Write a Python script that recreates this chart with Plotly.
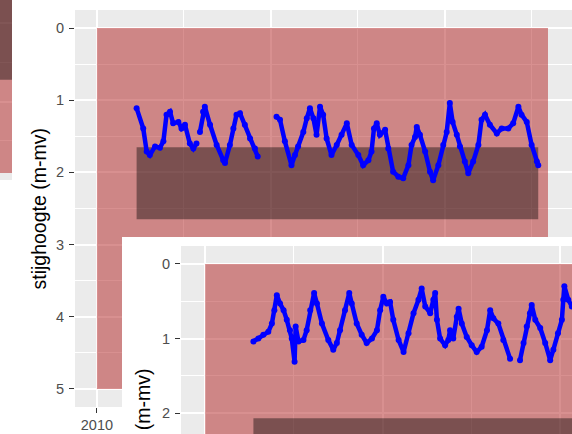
import plotly.graph_objects as go

# ---------------------------------------------------------------------------
# Data
# ---------------------------------------------------------------------------
# Filter 1 (large panel): groundwater head below surface level, decimal years
main_year = [
    2011.14, 2011.33, 2011.43, 2011.52, 2011.67, 2011.81, 2011.91, 2012.00,
    2012.10, 2012.19, 2012.34, 2012.43, 2012.53, 2012.67, 2012.77, 2012.86,
    None,
    2012.96, 2013.05, 2013.10, 2013.25, 2013.44, 2013.63, 2013.68, 2013.82,
    2013.92, 2014.01, 2014.11, 2014.25, 2014.40, 2014.54, 2014.62,
    None,
    2015.16, 2015.26, 2015.40, 2015.59, 2015.69, 2015.78, 2015.93, 2016.03,
    2016.12, 2016.22, 2016.31, 2016.41, 2016.50, 2016.60, 2016.74, 2016.89,
    2017.03, 2017.18, 2017.32, 2017.51, 2017.65, 2017.80, 2017.89, 2017.96,
    2018.04, 2018.13, 2018.28, 2018.37, 2018.51, 2018.66, 2018.80, 2018.95,
    2019.04, 2019.14, 2019.19, 2019.28, 2019.43, 2019.57, 2019.66, 2019.81,
    2019.95, 2020.05, 2020.14, 2020.22, 2020.34, 2020.43, 2020.57, 2020.67,
    2020.81, 2020.96, 2021.05, 2021.15, 2021.29, 2021.49, 2021.63, 2021.82,
    2021.96, 2022.11, 2022.20, 2022.35, 2022.49, 2022.64, 2022.68,
]
main_level = [
    1.11, 1.39, 1.71, 1.76, 1.64, 1.66, 1.57, 1.20,
    1.16, 1.32, 1.30, 1.39, 1.34, 1.60, 1.67, 1.60,
    None,
    1.44, 1.16, 1.09, 1.34, 1.62, 1.83, 1.87, 1.62,
    1.39, 1.20, 1.18, 1.34, 1.53, 1.67, 1.78,
    None,
    1.23, 1.27, 1.57, 1.90, 1.76, 1.64, 1.44, 1.25,
    1.11, 1.25, 1.48, 1.09, 1.20, 1.53, 1.76, 1.62,
    1.48, 1.32, 1.62, 1.76, 1.90, 1.83, 1.71, 1.39,
    1.32, 1.48, 1.41, 1.67, 1.99, 2.06, 2.08, 1.90,
    1.62, 1.51, 1.37, 1.48, 1.71, 1.99, 2.11, 1.90,
    1.62, 1.44, 1.04, 1.30, 1.48, 1.64, 1.85, 2.01,
    1.85, 1.62, 1.27, 1.20, 1.34, 1.46, 1.39, 1.39,
    1.32, 1.09, 1.20, 1.30, 1.62, 1.85, 1.90,
]

# Filter 2 (lower panel)
inset_year = [
    2011.36, 2011.50, 2011.64, 2011.78, 2011.88, 2011.95, 2012.02, 2012.11,
    2012.21, 2012.30, 2012.39, 2012.44, 2012.52, 2012.55, 2012.63, 2012.77,
    2012.86, 2012.96, 2013.07, 2013.15, 2013.29, 2013.47, 2013.61, 2013.71,
    2013.80, 2013.94, 2014.06, 2014.13, 2014.27, 2014.41, 2014.55, 2014.70,
    2014.84, 2014.93, 2015.02, 2015.12, 2015.21, 2015.30, 2015.45, 2015.59,
    2015.73, 2015.87, 2016.01, 2016.10, 2016.20, 2016.34, 2016.43, 2016.48,
    2016.53, 2016.62, 2016.76, 2016.85, 2016.90, 2016.99, 2017.09, 2017.14,
    2017.23, 2017.37, 2017.51, 2017.65, 2017.79, 2017.94, 2018.03, 2018.12,
    2018.26, 2018.40, 2018.59,
    None,
    2018.87, 2018.97, 2019.06, 2019.15, 2019.20, 2019.30, 2019.44, 2019.58,
    2019.72, 2019.81, 2019.94, 2020.05, 2020.09, 2020.12, 2020.23, 2020.33,
]
inset_level = [
    1.04, 1.00, 0.95, 0.91, 0.80, 0.62, 0.42, 0.53,
    0.62, 0.75, 0.89, 1.00, 1.31, 0.84, 1.04, 1.02,
    0.89, 0.62, 0.39, 0.53, 0.80, 1.02, 1.15, 1.06,
    0.89, 0.62, 0.39, 0.53, 0.80, 0.95, 1.06, 1.00,
    0.89, 0.62, 0.44, 0.53, 0.51, 0.75, 1.02, 1.18,
    0.93, 0.66, 0.48, 0.33, 0.57, 0.66, 0.48, 0.39,
    0.75, 1.00, 1.09, 1.02, 0.89, 1.00, 0.71, 0.60,
    0.80, 0.98, 1.09, 1.18, 1.11, 0.89, 0.62, 0.73,
    0.80, 1.02, 1.27,
    None,
    1.29, 1.06, 0.84, 0.66, 0.55, 0.75, 0.86, 1.06,
    1.29, 1.15, 0.93, 0.75, 0.48, 0.30, 0.48, 0.57,
]

# Shaded bands: full period / depth, and filter screen depth over the record
main_period = [2010.0, 2022.96]
main_depth = [0.0, 5.0]
main_screen_years = [2011.14, 2022.68]
main_screen_depth = [1.65, 2.65]

inset_period = [2010.0, 2022.96]
inset_depth = [0.0, 5.0]
inset_screen_years = [2011.36, 2022.68]
inset_screen_depth = [2.07, 3.07]

# Panel behind the main chart (only its right edge shows)
edge_depth = [-0.3, 1.91]
edge_screen_depth = [-0.3, 0.72]

y_ticks_main = [0, 1, 2, 3, 4, 5]
y_ticks_inset = [0, 1, 2]
x_ticks = [2010, 2015, 2020]
axis_title = "stijghoogte (m-mv)"

# ---------------------------------------------------------------------------
# Layout helpers (pixel -> paper fraction)
# ---------------------------------------------------------------------------
W, H = 572, 434


def fx(px):
    return px / W


def fy(py):
    return 1 - py / H


PANEL = "#EBEBEB"
RED = "rgba(178,34,34,0.5)"
DARK = "rgba(0,0,0,0.4)"
BLUE = "#0000FF"
FONT = "Liberation Sans, Arial, sans-serif"
TICKFONT = dict(family=FONT, size=14.5, color="#4D4D4D")
TITLEFONT = dict(family=FONT, size=19.5, color="black")

fig = go.Figure()

# empty traces so every subplot is created
fig.add_trace(go.Scatter(x=[None], y=[None], xaxis="x", yaxis="y",
                         showlegend=False, hoverinfo="skip"))
fig.add_trace(go.Scatter(
    x=main_year, y=main_level, xaxis="x2", yaxis="y2",
    mode="lines+markers", connectgaps=False,
    line=dict(color=BLUE, width=4.5), marker=dict(color=BLUE, size=6),
    showlegend=False, hoverinfo="skip"))
fig.add_trace(go.Scatter(x=[None], y=[None], xaxis="x3", yaxis="y3",
                         showlegend=False, hoverinfo="skip"))
fig.add_trace(go.Scatter(
    x=inset_year, y=inset_level, xaxis="x4", yaxis="y4",
    mode="lines+markers", connectgaps=False,
    line=dict(color=BLUE, width=4.5), marker=dict(color=BLUE, size=6),
    showlegend=False, hoverinfo="skip"))

shapes = []
# background chart at the left edge
shapes.append(dict(type="rect", xref="x", yref="y", x0=-1, x1=2,
                   y0=edge_depth[0], y1=edge_depth[1],
                   fillcolor=RED, line=dict(width=0), layer="between"))
shapes.append(dict(type="rect", xref="x", yref="y", x0=-1, x1=2,
                   y0=edge_screen_depth[0], y1=edge_screen_depth[1],
                   fillcolor=DARK, line=dict(width=0), layer="between"))
# main chart bands
shapes.append(dict(type="rect", xref="x2", yref="y2",
                   x0=main_period[0], x1=main_period[1],
                   y0=main_depth[0], y1=main_depth[1],
                   fillcolor=RED, line=dict(width=0), layer="between"))
shapes.append(dict(type="rect", xref="x2", yref="y2",
                   x0=main_screen_years[0], x1=main_screen_years[1],
                   y0=main_screen_depth[0], y1=main_screen_depth[1],
                   fillcolor=DARK, line=dict(width=0), layer="between"))
# white card behind the lower chart
shapes.append(dict(type="rect", xref="x3", yref="y3", x0=-0.5, x1=1.5,
                   y0=-0.5, y1=1.5, fillcolor="white",
                   line=dict(width=0), layer="below"))
# lower chart bands
shapes.append(dict(type="rect", xref="x4", yref="y4",
                   x0=inset_period[0], x1=inset_period[1],
                   y0=inset_depth[0], y1=inset_depth[1],
                   fillcolor=RED, line=dict(width=0), layer="between"))
shapes.append(dict(type="rect", xref="x4", yref="y4",
                   x0=inset_screen_years[0], x1=inset_screen_years[1],
                   y0=inset_screen_depth[0], y1=inset_screen_depth[1],
                   fillcolor=DARK, line=dict(width=0), layer="between"))

grid_major = dict(showgrid=True, gridcolor="white", gridwidth=1.6,
                  zeroline=False, showline=False)

fig.update_layout(
    width=W, height=H, template="none",
    margin=dict(l=0, r=0, t=0, b=0, pad=0),
    paper_bgcolor="white", plot_bgcolor=PANEL,
    showlegend=False, shapes=shapes,
    # left-edge background chart
    xaxis=dict(domain=[0, fx(12)], range=[0, 1], anchor="y",
               showgrid=False, zeroline=False, showticklabels=False,
               ticks="", fixedrange=True, automargin=False),
    yaxis=dict(domain=[fy(180), 1], range=[2.0, -0.3], anchor="x",
               dtick=1, tick0=0, showticklabels=False, ticks="",
               minor=dict(dtick=0.5, tick0=0, showgrid=True,
                          gridcolor="white", gridwidth=0.8),
               automargin=False, **grid_major),
    # main chart
    xaxis2=dict(domain=[fx(75), 1], range=[2009.37, 2023.65], anchor="y2",
                tickmode="linear", tick0=x_ticks[0], dtick=5,
                ticks="outside", ticklen=5, tickwidth=1.3,
                tickcolor="#333333", tickfont=TICKFONT,
                minor=dict(dtick=2.5, tick0=2010, showgrid=True,
                           gridcolor="white", gridwidth=0.8),
                automargin=False, **grid_major),
    yaxis2=dict(domain=[fy(407), fy(10)], range=[5.25, -0.25], anchor="x2",
                tickmode="array", tickvals=y_ticks_main,
                ticktext=[str(v) for v in y_ticks_main],
                ticks="outside", ticklen=5, tickwidth=1.3,
                tickcolor="#333333", tickfont=TICKFONT,
                ticklabelstandoff=2,
                minor=dict(dtick=0.5, tick0=0, showgrid=True,
                           gridcolor="white", gridwidth=0.8),
                automargin=False, **grid_major),
    # card behind the lower chart
    xaxis3=dict(domain=[fx(122), 1], range=[0, 1], anchor="y3",
                visible=False, automargin=False),
    yaxis3=dict(domain=[0, fy(237)], range=[0, 1], anchor="x3",
                visible=False, automargin=False),
    # lower chart
    xaxis4=dict(domain=[fx(181), 1], range=[2009.32, 2020.335], anchor="y4",
                tickmode="linear", tick0=x_ticks[0], dtick=5,
                showticklabels=False, ticks="",
                minor=dict(dtick=2.5, tick0=2010, showgrid=True,
                           gridcolor="white", gridwidth=0.8),
                automargin=False, **grid_major),
    yaxis4=dict(domain=[0, fy(246)], range=[2.28, -0.24], anchor="x4",
                tickmode="array", tickvals=y_ticks_inset,
                ticktext=[str(v) for v in y_ticks_inset],
                ticks="outside", ticklen=5, tickwidth=1.3,
                tickcolor="#333333", tickfont=TICKFONT,
                ticklabelstandoff=2,
                minor=dict(dtick=0.5, tick0=0, showgrid=True,
                           gridcolor="white", gridwidth=0.8),
                automargin=False, **grid_major),
    annotations=[
        dict(text=axis_title, xref="paper", yref="paper",
             x=fx(38), y=fy(209.5), textangle=-90, showarrow=False,
             xanchor="center", yanchor="middle", font=TITLEFONT),
        dict(text=axis_title, xref="paper", yref="paper",
             x=fx(143), y=fy(450), textangle=-90, showarrow=False,
             xanchor="center", yanchor="middle", font=TITLEFONT),
    ],
)

fig.write_html("out.html")
